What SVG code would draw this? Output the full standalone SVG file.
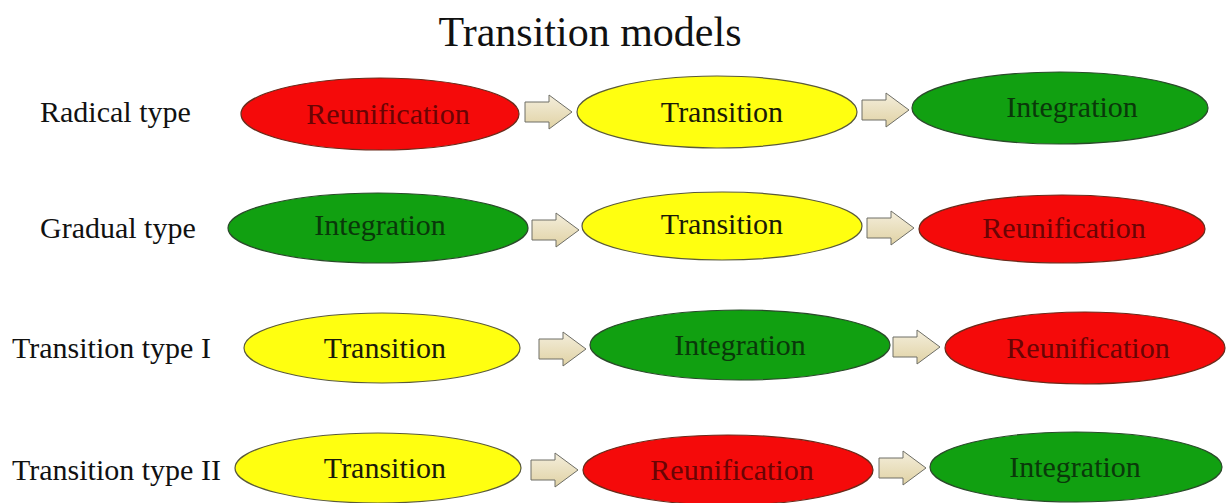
<svg xmlns="http://www.w3.org/2000/svg" width="1230" height="503" viewBox="0 0 1230 503">
  <style>
    .title { font-family: "Liberation Serif", "Times New Roman", serif; font-size: 42px; fill: #111; text-anchor: middle; }
    .row { font-family: "Liberation Serif", "Times New Roman", serif; font-size: 30px; fill: #111; }
    .lbl { font-family: "Liberation Serif", "Times New Roman", serif; font-size: 30px; text-anchor: middle; }
    .red ellipse { fill: #f50a0a; stroke: #6a2a1a; stroke-width: 1.2; }
    .red text { fill: #6a0404; }
    .yel ellipse { fill: #ffff10; stroke: #5a5a3a; stroke-width: 1.2; }
    .yel text { fill: #1a1a08; }
    .grn ellipse { fill: #11a011; stroke: #2a4a2a; stroke-width: 1.2; }
    .grn text { fill: #0a380a; }
    .arrow { fill: url(#beige); stroke: #6e6e66; stroke-width: 1; }
  </style>
  <defs>
    <linearGradient id="beige" x1="0" y1="0" x2="0" y2="1">
      <stop offset="0" stop-color="#f4eedc"/>
      <stop offset="1" stop-color="#e0d2a4"/>
    </linearGradient>
    <path id="blockArrow" class="arrow" d="M0,-10 H24 V-17 L47,0 L24,17 V10 H0 Z"/>
  </defs>
  <rect width="1230" height="503" fill="#ffffff"/>

  <text class="title" x="590" y="46">Transition models</text>

  <!-- row labels -->
  <g id="row-labels">
    <text class="row" x="40" y="122">Radical type</text>
    <text class="row" x="40" y="238">Gradual type</text>
    <text class="row" x="12" y="358">Transition type I</text>
    <text class="row" x="12" y="480">Transition type II</text>
  </g>

  <!-- Radical type -->
  <g id="r1-reunification" class="red">
    <ellipse cx="380" cy="114" rx="139" ry="36"/>
    <text class="lbl" x="388" y="124">Reunification</text>
  </g>
  <g id="r1-transition" class="yel">
    <ellipse cx="717" cy="112" rx="140" ry="36"/>
    <text class="lbl" x="722" y="122">Transition</text>
  </g>
  <g id="r1-integration" class="grn">
    <ellipse cx="1060" cy="108" rx="148" ry="36"/>
    <text class="lbl" x="1072" y="117">Integration</text>
  </g>

  <!-- Gradual type -->
  <g id="r2-integration" class="grn">
    <ellipse cx="378" cy="228" rx="150" ry="35"/>
    <text class="lbl" x="380" y="235">Integration</text>
  </g>
  <g id="r2-transition" class="yel">
    <ellipse cx="722" cy="226" rx="140" ry="34"/>
    <text class="lbl" x="722" y="234">Transition</text>
  </g>
  <g id="r2-reunification" class="red">
    <ellipse cx="1062" cy="229" rx="143" ry="34"/>
    <text class="lbl" x="1064" y="238">Reunification</text>
  </g>

  <!-- Transition type I -->
  <g id="r3-transition" class="yel">
    <ellipse cx="382" cy="348" rx="138" ry="35"/>
    <text class="lbl" x="385" y="358">Transition</text>
  </g>
  <g id="r3-integration" class="grn">
    <ellipse cx="740" cy="345" rx="150" ry="35"/>
    <text class="lbl" x="740" y="355">Integration</text>
  </g>
  <g id="r3-reunification" class="red">
    <ellipse cx="1085" cy="348" rx="140" ry="36"/>
    <text class="lbl" x="1088" y="358">Reunification</text>
  </g>

  <!-- Transition type II -->
  <g id="r4-transition" class="yel">
    <ellipse cx="378" cy="468" rx="143" ry="35"/>
    <text class="lbl" x="385" y="478">Transition</text>
  </g>
  <g id="r4-reunification" class="red">
    <ellipse cx="728" cy="470" rx="145" ry="35"/>
    <text class="lbl" x="732" y="480">Reunification</text>
  </g>
  <g id="r4-integration" class="grn">
    <ellipse cx="1076" cy="467" rx="146" ry="35"/>
    <text class="lbl" x="1075" y="477">Integration</text>
  </g>

  <!-- block arrows between stages -->
  <g id="connectors">
    <use href="#blockArrow" x="525" y="112"/>
    <use href="#blockArrow" x="862" y="110"/>
    <use href="#blockArrow" x="532" y="230"/>
    <use href="#blockArrow" x="867" y="228"/>
    <use href="#blockArrow" x="539" y="349"/>
    <use href="#blockArrow" x="893" y="347"/>
    <use href="#blockArrow" x="531" y="470"/>
    <use href="#blockArrow" x="879" y="468"/>
  </g>
</svg>
